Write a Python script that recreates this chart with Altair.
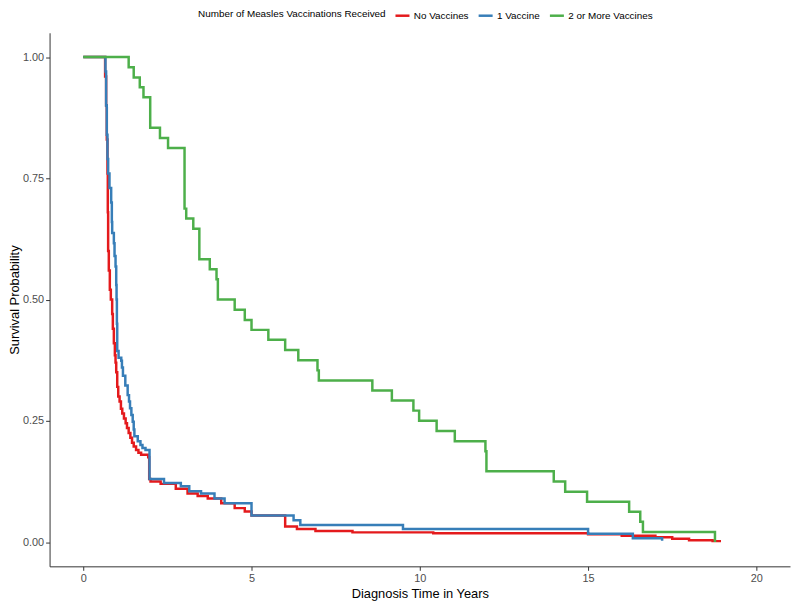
import altair as alt
import pandas as pd

groups = ["No Vaccines", "1 Vaccine", "2 or More Vaccines"]
colors = ["#E41A1C", "#377EB8", "#4DAF4A"]

red_t = [0, 0.65, 0.68, 0.70, 0.72, 0.73, 0.74, 0.76, 0.79, 0.82, 0.86, 0.88, 0.91, 0.94, 0.96, 0.98,
         1.01, 1.04, 1.08, 1.12, 1.16, 1.21, 1.26, 1.30, 1.35, 1.40, 1.45, 1.50, 1.57, 1.64, 1.72, 1.93,
         1.96, 2.0, 2.3, 2.75, 3.1, 3.4, 3.7, 4.1, 4.5, 4.8, 5.0, 6.0, 6.35, 6.9, 8.0, 10.4, 15.0,
         16.0, 17.0, 17.5, 18.0, 18.7, 18.95]
red_s = [1.0, 0.96, 0.90, 0.83, 0.76, 0.68, 0.60, 0.56, 0.52, 0.50, 0.47, 0.44, 0.41, 0.385, 0.37, 0.35,
         0.32, 0.30, 0.29, 0.275, 0.265, 0.255, 0.245, 0.235, 0.225, 0.215, 0.205, 0.197, 0.19, 0.184, 0.18, 0.175,
         0.13, 0.125, 0.12, 0.11, 0.10, 0.095, 0.09, 0.08, 0.07, 0.063, 0.055, 0.032, 0.027, 0.023, 0.02, 0.018, 0.016,
         0.013, 0.01, 0.007, 0.004, 0.002, 0.002]

blue_t = [0, 0.66, 0.68, 0.70, 0.72, 0.74, 0.78, 0.83, 0.85, 0.86, 0.91, 0.93, 0.96, 0.98, 0.99, 1.0,
          1.01, 1.05, 1.13, 1.15, 1.18, 1.25, 1.32, 1.36, 1.39, 1.43, 1.47, 1.50, 1.52, 1.62, 1.70, 1.76,
          1.85, 1.97, 2.4, 2.9, 3.15, 3.5, 3.9, 4.2, 5.0, 6.25, 6.45, 9.5, 15.0, 16.33, 17.2]
blue_s = [1.0, 0.97, 0.90, 0.84, 0.79, 0.76, 0.73, 0.70, 0.66, 0.637, 0.616, 0.59, 0.568, 0.53, 0.50, 0.45,
          0.394, 0.38, 0.374, 0.36, 0.343, 0.323, 0.303, 0.29, 0.276, 0.262, 0.248, 0.232, 0.218, 0.208, 0.20, 0.194,
          0.19, 0.13, 0.122, 0.115, 0.105, 0.10, 0.09, 0.08, 0.055, 0.045, 0.035, 0.027, 0.017, 0.008, 0.003]

green_t = [0, 1.35, 1.5, 1.68, 1.79, 1.99, 2.28, 2.52, 3.01, 3.06, 3.27, 3.45, 3.76, 3.96, 4.0,
           4.5, 4.8, 5.0, 5.5, 6.0, 6.39, 6.96, 7.0, 8.59, 9.17, 9.81, 9.98, 10.5, 11.04, 11.95, 11.98,
           13.98, 14.32, 14.97, 16.22, 16.55, 16.63, 18.77]
green_s = [1.0, 0.979, 0.958, 0.9375, 0.917, 0.854, 0.833, 0.8125, 0.6875, 0.667, 0.646, 0.583, 0.5625, 0.542, 0.5,
           0.479, 0.458, 0.4375, 0.417, 0.396, 0.375, 0.354, 0.333, 0.3125, 0.292, 0.271, 0.25, 0.229, 0.208, 0.1875, 0.146,
           0.125, 0.104, 0.083, 0.0625, 0.042, 0.021, 0.0]

x_ticks = [0, 5, 10, 15, 20]
y_ticks = [0, 0.25, 0.5, 0.75, 1.0]

rows = []
for g, ts, ss in zip(groups, [red_t, blue_t, green_t], [red_s, blue_s, green_s]):
    for i, (t, s) in enumerate(zip(ts, ss)):
        rows.append({"group": g, "time": t, "surv": s, "idx": i})
df = pd.DataFrame(rows)

FONT = "Liberation Sans"

chart = alt.Chart(df).mark_line(interpolate="step-after", strokeWidth=2.5).encode(
    x=alt.X("time:Q", scale=alt.Scale(domain=[-1, 21], nice=False, zero=False),
            axis=alt.Axis(title="Diagnosis Time in Years", values=x_ticks, format="d", grid=False,
                          tickSize=4, labelPadding=2, titlePadding=4)),
    y=alt.Y("surv:Q", scale=alt.Scale(domain=[-0.05, 1.05], nice=False, zero=False),
            axis=alt.Axis(title="Survival Probability", values=y_ticks, format=".2f", grid=False,
                          tickSize=4, labelPadding=2, titlePadding=1)),
    color=alt.Color("group:N", scale=alt.Scale(domain=groups, range=colors),
                    legend=alt.Legend(title="Number of Measles Vaccinations Received",
                                      orient="none", legendX=150, legendY=-26,
                                      direction="horizontal", titleOrient="left",
                                      symbolType="stroke", symbolStrokeWidth=2.5, symbolSize=200,
                                      labelFontSize=10, titleFontSize=10, titleFontWeight="normal",
                                      titleLimit=0, labelLimit=0,
                                      columnPadding=4, labelOffset=3, titlePadding=8,
                                      labelFont=FONT, titleFont=FONT, labelColor="#000000",
                                      titleColor="#000000")),
    order="idx:Q",
).properties(
    width=748, height=539,
    autosize=alt.AutoSizeParams(type="none"),
    padding={"left": 42, "top": 22, "right": 2, "bottom": 34},
).configure_view(stroke=None).configure_axis(
    domainColor="#333333", tickColor="#333333", labelColor="#4D4D4D", titleColor="#000000",
    labelFontSize=11, titleFontSize=13, labelFont=FONT, titleFont=FONT,
    titleFontWeight="normal", domainWidth=1, tickWidth=1,
)

chart.save("out.html", embed_options={"renderer": "svg", "actions": False})
